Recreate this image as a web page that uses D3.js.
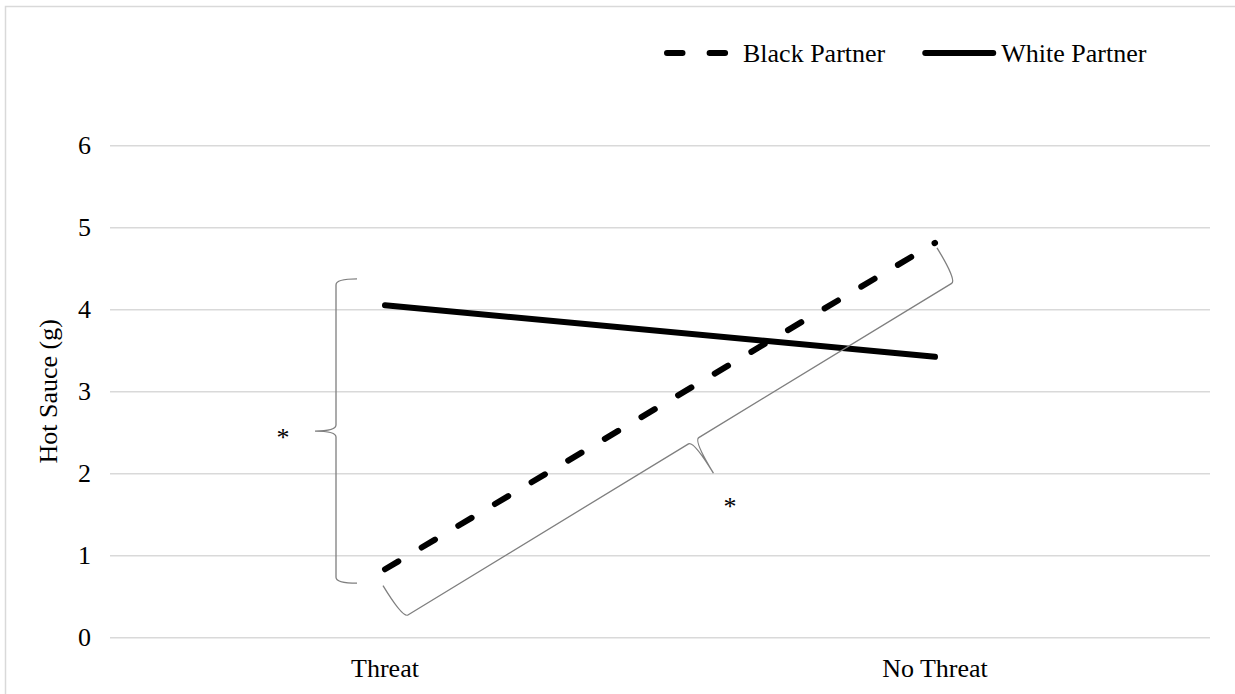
<!DOCTYPE html>
<html>
<head>
<meta charset="utf-8">
<script src="https://cdn.jsdelivr.net/npm/d3@7"></script>
<style>
  html, body { margin: 0; padding: 0; background: #fff; }
  svg { display: block; }
  text { font-family: "Liberation Serif", "Times New Roman", serif; fill: #000; }
</style>
</head>
<body>
<svg id="chart" width="1235" height="694"></svg>
<script>
// ---- data ----
const conditions = ["Threat", "No Threat"];
const seriesNames = ["Black Partner", "White Partner"];
const blackPartner = [0.83, 4.81];
const whitePartner = [4.05, 3.42];
const yTicks = [0, 1, 2, 3, 4, 5, 6];
const yTitle = "Hot Sauce (g)";

// significance braces, endpoints in data units (condition, value)
const leftBraceFrom = ["Threat", 4.37];
const leftBraceTo = ["Threat", 0.66];
const diagBraceFrom = ["Threat", 0.63];
const diagBraceTo = ["No Threat", 4.75];
const sigMark = "*";

// ---- layout ----
const W = 1235, H = 694;
const plot = { left: 110, right: 1210, top: 145.3, bottom: 637.3 };
const FONT = 26;

const svg = d3.select("#chart");

// outer chart-area frame
svg.append("rect")
  .attr("x", 5.5).attr("y", 6.5)
  .attr("width", W + 20).attr("height", H + 20)
  .attr("fill", "none").attr("stroke", "#d9d9d9").attr("stroke-width", 1.5);

const x = d3.scaleBand().domain(conditions).range([plot.left, plot.right]).padding(0);
const cx = c => x(c) + x.bandwidth() / 2;
const y = d3.scaleLinear().domain([0, 6]).range([plot.bottom, plot.top]);

// gridlines + y tick labels
const yAxis = d3.axisLeft(y)
  .tickValues(yTicks)
  .tickFormat(d3.format("d"))
  .tickSize(-(plot.right - plot.left))
  .tickPadding(19);
const gy = svg.append("g").attr("transform", `translate(${plot.left},0)`).call(yAxis);
gy.select(".domain").remove();
gy.selectAll(".tick line").attr("stroke", "#d9d9d9").attr("stroke-width", 1.5);
gy.selectAll(".tick text")
  .attr("font-size", FONT).attr("font-family", "Liberation Serif").attr("fill", "#000");

// category labels
const xAxis = d3.axisBottom(x).tickSize(0).tickPadding(0);
const gx = svg.append("g").attr("transform", `translate(0,${plot.bottom})`).call(xAxis);
gx.select(".domain").remove();
gx.selectAll(".tick text")
  .attr("font-size", FONT).attr("font-family", "Liberation Serif").attr("fill", "#000")
  .attr("dy", null).attr("y", 40);

// y axis title
svg.append("text")
  .attr("transform", `translate(57,${(plot.top + plot.bottom) / 2}) rotate(-90)`)
  .attr("text-anchor", "middle")
  .attr("font-size", FONT)
  .text(yTitle);

// ---- series lines ----
const line = d3.line().x((d, i) => cx(conditions[i])).y(d => y(d));
const DASH = "15.5,27.1";

svg.append("path")
  .datum(whitePartner)
  .attr("d", line)
  .attr("fill", "none").attr("stroke", "#000").attr("stroke-width", 6)
  .attr("stroke-linecap", "round");

svg.append("path")
  .datum(blackPartner)
  .attr("d", line)
  .attr("fill", "none").attr("stroke", "#000").attr("stroke-width", 6)
  .attr("stroke-linecap", "round").attr("stroke-dasharray", DASH);

// ---- curly braces ----
function bracePath(P, Q, w, tipFrac) {
  const dx = Q[0] - P[0], dy = Q[1] - P[1], L = Math.hypot(dx, dy);
  const t = [dx / L, dy / L], n = [-t[1], t[0]];
  const pt = (u, v) => [P[0] + t[0] * u + n[0] * v, P[1] + t[1] * u + n[1] * v];
  const m = L * tipFrac, e = 6;
  const p = d3.path();
  p.moveTo(...pt(0, 0));
  p.quadraticCurveTo(...pt(0, w), ...pt(e, w));
  p.lineTo(...pt(m - e, w));
  p.quadraticCurveTo(...pt(m, w), ...pt(m, 2 * w));
  p.quadraticCurveTo(...pt(m, w), ...pt(m + e, w));
  p.lineTo(...pt(L - e, w));
  p.quadraticCurveTo(...pt(L, w), ...pt(L, 0));
  return { d: p.toString(), tip: pt(m, 2 * w), n };
}

function drawBrace(from, to, offFrom, offTo, w, tipFrac) {
  const P = [cx(from[0]) + offFrom, y(from[1])];
  const Q = [cx(to[0]) + offTo, y(to[1])];
  const b = bracePath(P, Q, w, tipFrac);
  svg.append("path")
    .attr("d", b.d)
    .attr("fill", "none").attr("stroke", "#7f7f7f").attr("stroke-width", 1.3);
  const sx = b.tip[0] + b.n[0] * 32, sy = b.tip[1] + b.n[1] * 32;
  svg.append("text")
    .attr("x", sx).attr("y", sy + 15)
    .attr("text-anchor", "middle")
    .attr("font-size", FONT)
    .text(sigMark);
}

drawBrace(leftBraceFrom, leftBraceTo, -28, -28, 21, 0.5);
drawBrace(diagBraceFrom, diagBraceTo, -2, 2, 38, 0.525);

// ---- legend ----
const legendY = 53;
const legend = svg.append("g");
let lx = 667;
seriesNames.forEach((name, i) => {
  const seg = legend.append("line")
    .attr("x1", lx).attr("x2", lx + 68)
    .attr("y1", legendY).attr("y2", legendY)
    .attr("stroke", "#000").attr("stroke-width", 6).attr("stroke-linecap", "round");
  if (i === 0) seg.attr("stroke-dasharray", DASH);
  const txt = legend.append("text")
    .attr("x", lx + 68 + 8).attr("y", legendY + 9)
    .attr("font-size", FONT)
    .text(name);
  lx = lx + 68 + 8 + txt.node().getComputedTextLength() + 40;
});
</script>
</body>
</html>
